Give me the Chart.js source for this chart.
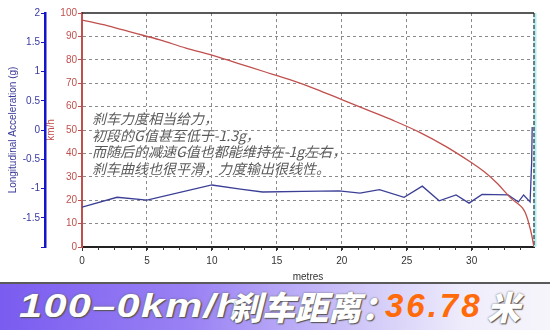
<!DOCTYPE html>
<html>
<head>
<meta charset="utf-8">
<script src="https://cdn.jsdelivr.net/npm/chart.js@4.4.1/dist/chart.umd.min.js"></script>
<style>
  html, body { margin: 0; padding: 0; background: #fff; }
  #wrap { position: relative; width: 550px; height: 330px; overflow: hidden; }
  #box { position: absolute; left: 0; top: 0; width: 550px; height: 283px; }
  #note {
    position: absolute; left: 92px; top: 110px;
    font: italic 14px "Noto Sans CJK SC", sans-serif; line-height: 16.5px;
    color: #5a5a5a; text-shadow: 0 0 2px #fff, 0 0 2px #fff;
    white-space: nowrap;
  }
  #banner {
    position: absolute; left: 0; top: 282px; width: 550px; height: 48px;
    border-top: 2px solid #5a5a5a; box-sizing: border-box;
    background: linear-gradient(90deg, #7a5cf0 0%, #9a82f4 35%, #cfc6f8 65%, #efedfb 85%, #f6f5fb 100%);
  }
  #banner span {
    position: absolute; top: 2px; white-space: nowrap;
    font-style: italic; font-weight: 900; line-height: 40px;
    color: #fff; text-shadow: 1px 1px 1px #555, 0 0 2px #666;
  }
  #banner .en { left: 19px; font-family: "Liberation Sans", Arial, sans-serif; font-size: 33px; transform: scaleX(1.26); transform-origin: left center; letter-spacing: 1px; }
  #banner .zh { left: 229px; font-family: "Noto Sans CJK SC", sans-serif; font-size: 33px; }
  #banner .num { left: 385px; font-family: "Liberation Sans", Arial, sans-serif; font-size: 33px; color: #ff6a0a; letter-spacing: 3px; text-shadow: none; }
  #banner .mi { left: 487px; font-family: "Noto Sans CJK SC", sans-serif; font-size: 33px; }
</style>
</head>
<body>
<div id="wrap">
  <div id="box"><canvas id="chart"></canvas></div>
  <div id="note">刹车力度相当给力，<br>初段的G值甚至低于-1.3g，<br>而随后的减速G值也都能维持在-1g左右，<br>刹车曲线也很平滑，力度输出很线性。</div>
  <div id="banner"><span class="en">100–0km/h</span><span class="zh">刹车距离：</span><span class="num">36.78</span><span class="mi">米</span></div>
</div>
<script>
// 速度曲线 (km/h) 对距离 (m)
const speedDist = [0, 2, 4, 6, 8, 10, 12, 14, 16, 18, 20, 22, 24, 26, 28, 30, 31, 32, 33, 34, 34.5, 34.8];
const speedKmh = [97, 94.5, 91.5, 88.5, 85, 82, 78.5, 75, 71.5, 67.5, 63, 58.5, 54, 49, 43, 36, 32, 27, 21, 16, 8, 0];

// 纵向加速度 (g)
const accDist = [0, 2.7, 5, 10, 12.2, 13.9, 17, 19.8, 21.4, 22.9, 24.8, 26.2, 27.5, 28.8, 29.8, 30.8, 32.8, 33.6, 34, 34.5, 34.62, 34.66];
const accG = [-1.32, -1.15, -1.2, -0.94, -1.01, -1.06, -1.05, -1.04, -1.08, -1.02, -1.15, -0.96, -1.21, -1.11, -1.25, -1.1, -1.11, -1.23, -1.11, -1.23, -0.55, 0.05];

const xTicks = [0, 5, 10, 15, 20, 25, 30];
const tickFont = { family: "'Liberation Sans', Arial, sans-serif", size: 10 };

const pairs = (xs, ys) => xs.map((x, i) => ({ x, y: ys[i] }));

// 边框、右侧光标线和小刻度
const framePlugin = {
  id: "frame",
  beforeDatasetsDraw(chart) {
    const { ctx, chartArea: a } = chart;
    ctx.save();
    ctx.strokeStyle = "rgba(170,235,240,0.9)";
    ctx.lineWidth = 3;
    ctx.beginPath();
    ctx.moveTo(a.right + 1, a.top);
    ctx.lineTo(a.right + 1, a.bottom);
    ctx.stroke();
    ctx.strokeStyle = "#555";
    ctx.lineWidth = 1.5;
    ctx.setLineDash([4, 2]);
    ctx.beginPath();
    ctx.moveTo(a.right, a.top);
    ctx.lineTo(a.right, a.bottom);
    ctx.stroke();
    ctx.restore();
  },
  afterDatasetsDraw(chart) {
    const { ctx, chartArea: a, scales } = chart;
    ctx.save();
    ctx.strokeStyle = "#222";
    ctx.lineWidth = 1.5;
    ctx.beginPath();
    ctx.moveTo(a.left, a.top);
    ctx.lineTo(a.right, a.top);
    ctx.stroke();
    // minor ticks every 1.25 m
    ctx.lineWidth = 1;
    ctx.strokeStyle = "#333";
    for (let v = 1.25; v < scales.x.max; v += 1.25) {
      const px = Math.round(scales.x.getPixelForValue(v)) + 0.5;
      ctx.beginPath();
      ctx.moveTo(px, a.bottom);
      ctx.lineTo(px, a.bottom + 3);
      ctx.stroke();
    }
    ctx.restore();
  },
};

new Chart(document.getElementById("chart"), {
  type: "line",
  data: {
    datasets: [
      {
        label: "km/h",
        data: pairs(speedDist, speedKmh),
        yAxisID: "y",
        borderColor: "#c0504d",
        borderWidth: 1.3,
        pointRadius: 0,
        tension: 0.35,
      },
      {
        label: "g",
        data: pairs(accDist, accG),
        yAxisID: "g",
        borderColor: "#3c3f96",
        borderWidth: 1.3,
        pointRadius: 0,
        tension: 0,
      },
    ],
  },
  options: {
    responsive: true,
    maintainAspectRatio: false,
    animation: false,
    layout: { padding: { top: 13, right: 16, left: 0, bottom: 0 } },
    plugins: { legend: { display: false }, tooltip: { enabled: false } },
    scales: {
      x: {
        type: "linear",
        min: 0,
        max: 34.8,
        afterBuildTicks: (s) => { s.ticks = xTicks.map((v) => ({ value: v })); },
        afterFit: (s) => { s.height = 36; },
        ticks: { color: "#333", font: tickFont, padding: 4, maxRotation: 0 },
        grid: { color: "#8a8a8a", tickColor: "#333", tickLength: 4 },
        border: { color: "#222", width: 2, dash: [3, 3] },
        title: { display: true, text: "metres", color: "#333", font: tickFont, padding: 0 },
      },
      y: {
        position: "left",
        weight: 0,
        min: 0,
        max: 100,
        afterFit: (s) => { s.width = 37; },
        ticks: { stepSize: 10, color: "#c0504d", font: tickFont, padding: 1 },
        grid: { color: (c) => (c.tick.value === 0 || c.tick.value === 100 ? "transparent" : "#8a8a8a"), tickColor: "#c0504d", tickLength: 4 },
        border: { color: "#c0504d", width: 2, dash: [3, 3] },
        title: { display: true, text: "km/h", color: "#c0504d", font: tickFont, padding: { top: 0, bottom: 0 } },
      },
      g: {
        position: "left",
        weight: 1,
        min: -2,
        max: 2,
        afterFit: (s) => { s.width = 45; },
        ticks: { stepSize: 0.5, color: "#3a3aa0", font: tickFont, padding: 1, callback: (v) => (v === -2 ? "" : v) },
        grid: { drawOnChartArea: false, color: "#1414c8", tickLength: 4 },
        border: { color: "#1414c8", width: 2.5 },
        title: { display: true, text: "Longitudinal Acceleration (g)", color: "#3a3a9a", font: tickFont, padding: { top: 7, bottom: 0 } },
      },
    },
  },
  plugins: [framePlugin],
});
</script>
</body>
</html>
